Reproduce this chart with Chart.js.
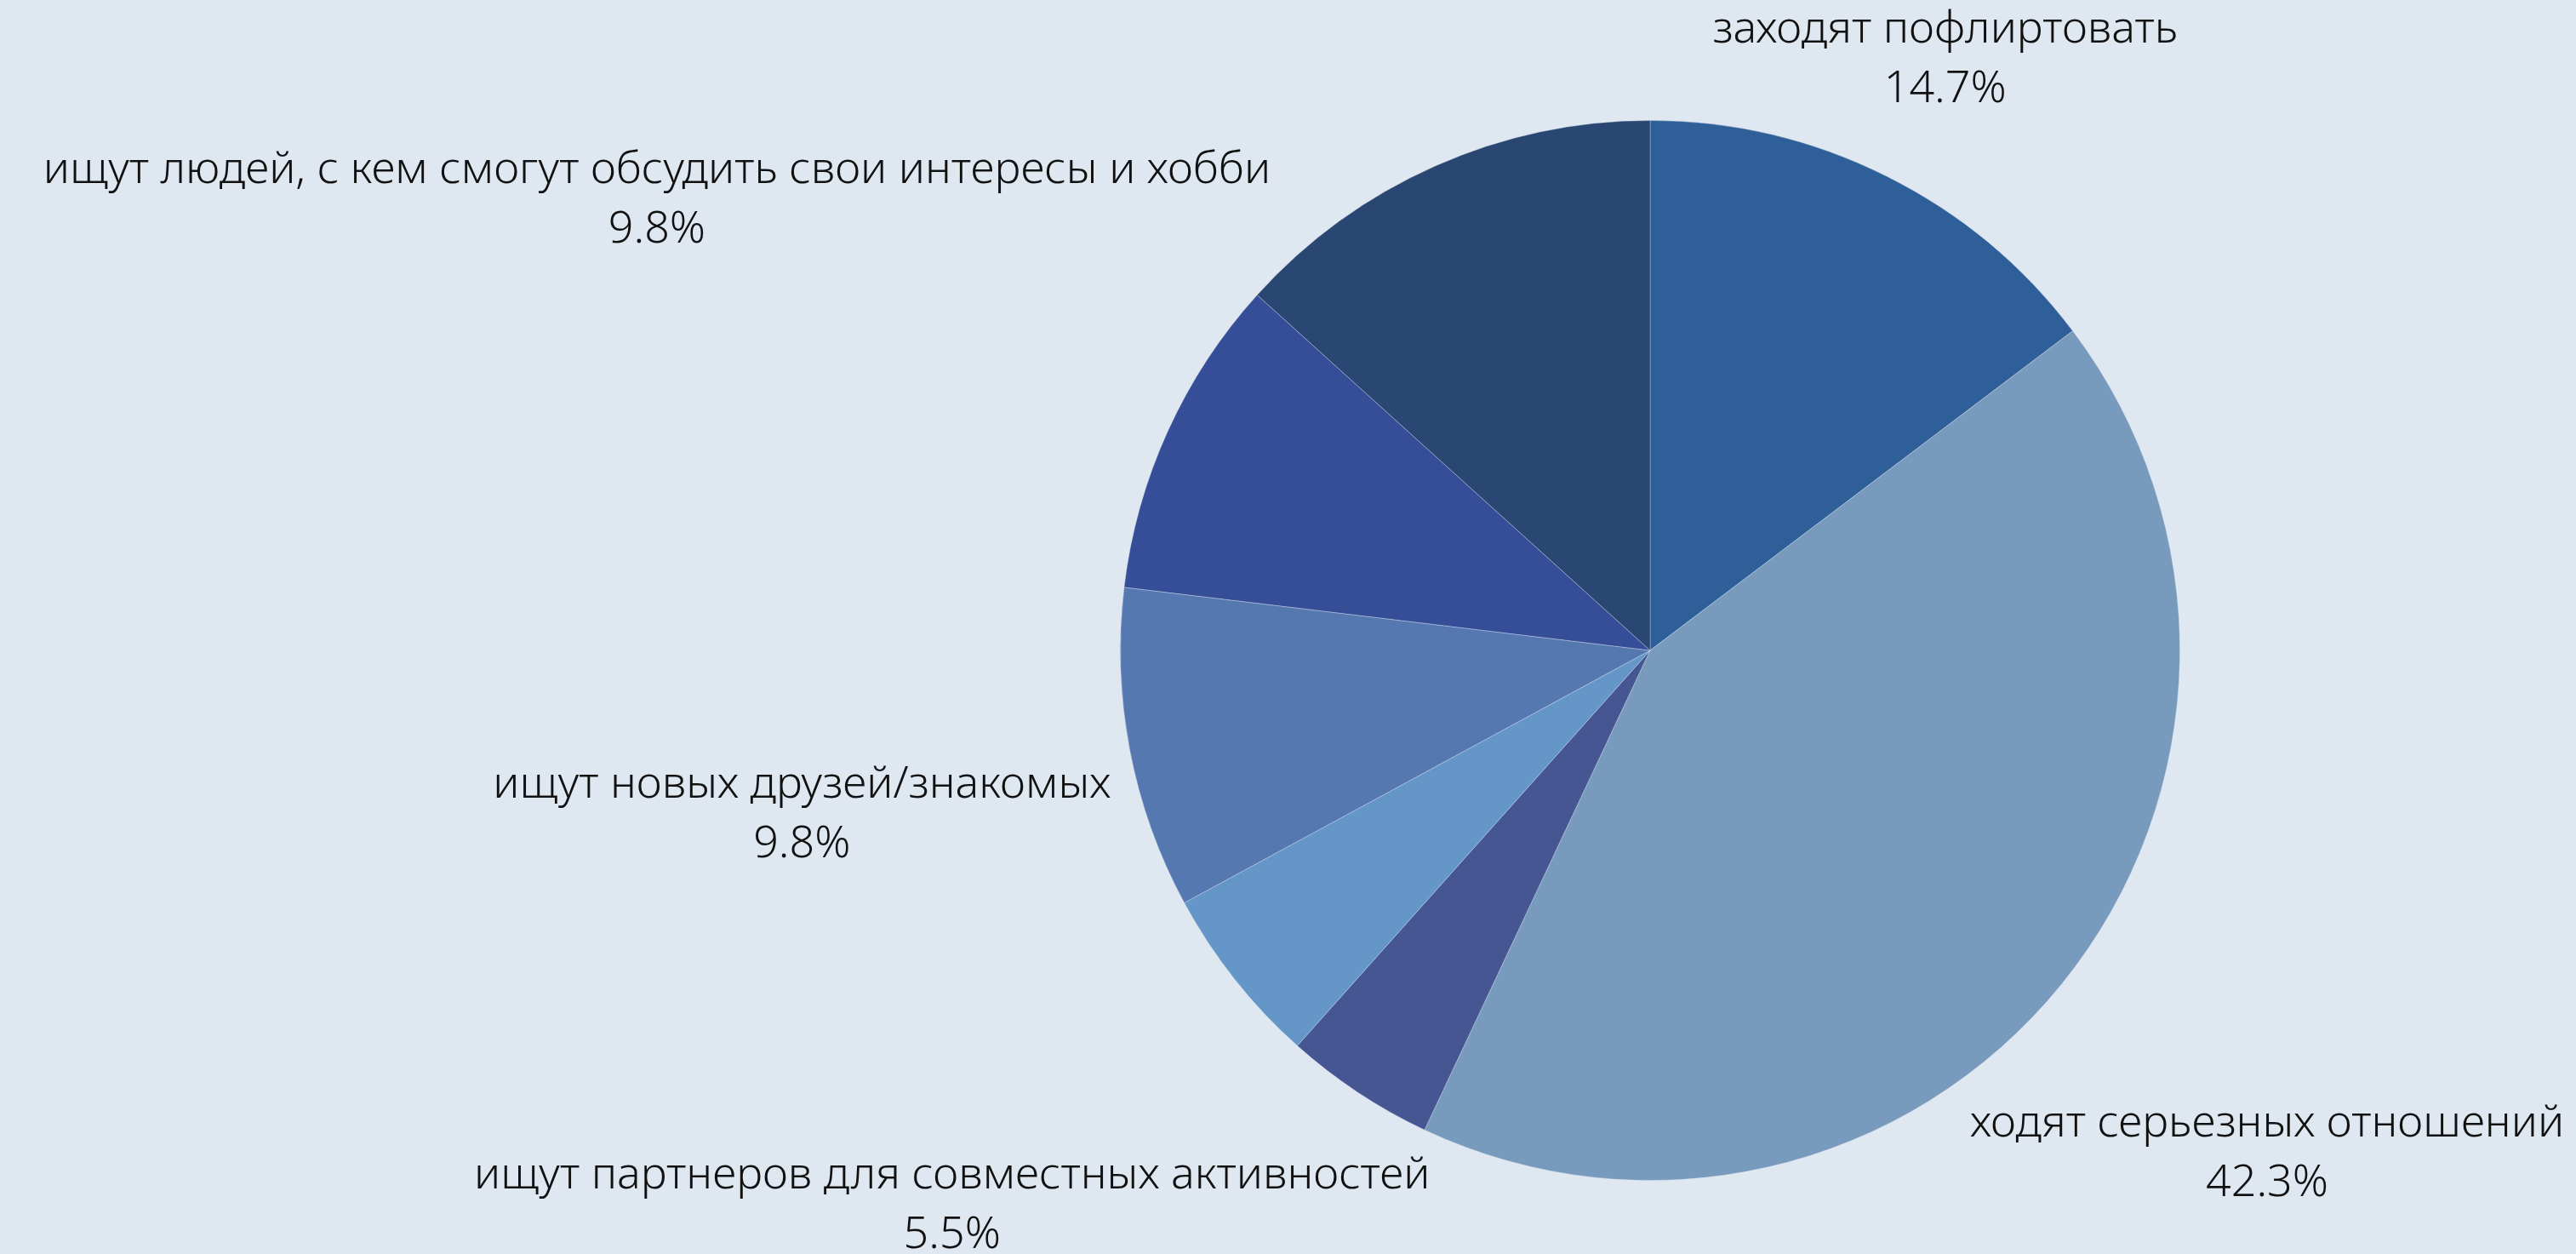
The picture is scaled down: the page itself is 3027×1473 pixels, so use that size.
<!DOCTYPE html>
<html>
<head>
<meta charset="utf-8">
<script src="https://cdn.jsdelivr.net/npm/chart.js@4"></script>
<style>
  html, body { margin: 0; padding: 0; background: #dfe7f1; }
  #wrap { width: 3027px; height: 1473px; position: relative; }
</style>
</head>
<body>
<div id="wrap"><canvas id="pieChart"></canvas></div>
<script>
// slices clockwise from 12 o'clock; null = no label shown on the picture
const categories = [
  "заходят пофлиртовать",
  "ходят серьезных отношений",
  null,
  "ищут партнеров для совместных активностей",
  "ищут новых друзей/знакомых",
  "ищут людей, с кем смогут обсудить свои интересы и хобби",
  null
];
const shares = [14.7, 42.3, 4.6, 5.5, 9.8, 9.8, 13.3];
const colors = ["#2e5f98", "#789abd", "#455693", "#6497c8", "#5678b1", "#354e97", "#2a4673"];

// how far out each label sits, in pie radii
const labelDistance = [1.25, 1.5, 1.3, 1.68, 1.63, 2.06, 1.3];

const outsideLabels = {
  id: "outsideLabels",
  afterDatasetsDraw(chart) {
    const { ctx } = chart;
    const meta = chart.getDatasetMeta(0);
    ctx.save();
    ctx.fillStyle = "#111";
    ctx.font = "300 52px 'Noto Sans'";
    ctx.textAlign = "center";
    ctx.textBaseline = "middle";
    meta.data.forEach((arc, i) => {
      const name = chart.data.labels[i];
      if (!name) return;
      const mid = (arc.startAngle + arc.endAngle) / 2;
      const d = arc.outerRadius * labelDistance[i];
      const x = arc.x + Math.cos(mid) * d;
      const y = arc.y + Math.sin(mid) * d + 3;
      ctx.fillText(name, x, y - 35);
      ctx.fillText(chart.data.datasets[0].data[i].toFixed(1) + "%", x, y + 35);
    });
    ctx.restore();
  }
};

new Chart(document.getElementById("pieChart"), {
  type: "pie",
  data: {
    labels: categories,
    datasets: [{
      data: shares,
      backgroundColor: colors,
      borderColor: "rgba(223, 231, 241, 0.35)",
      borderWidth: 1
    }]
  },
  options: {
    responsive: true,
    maintainAspectRatio: false,
    animation: false,
    layout: {
      padding: { left: 1316, right: 465, top: 141, bottom: 86 }
    },
    plugins: {
      legend: { display: false },
      tooltip: { enabled: false }
    }
  },
  plugins: [outsideLabels]
});
</script>
</body>
</html>
